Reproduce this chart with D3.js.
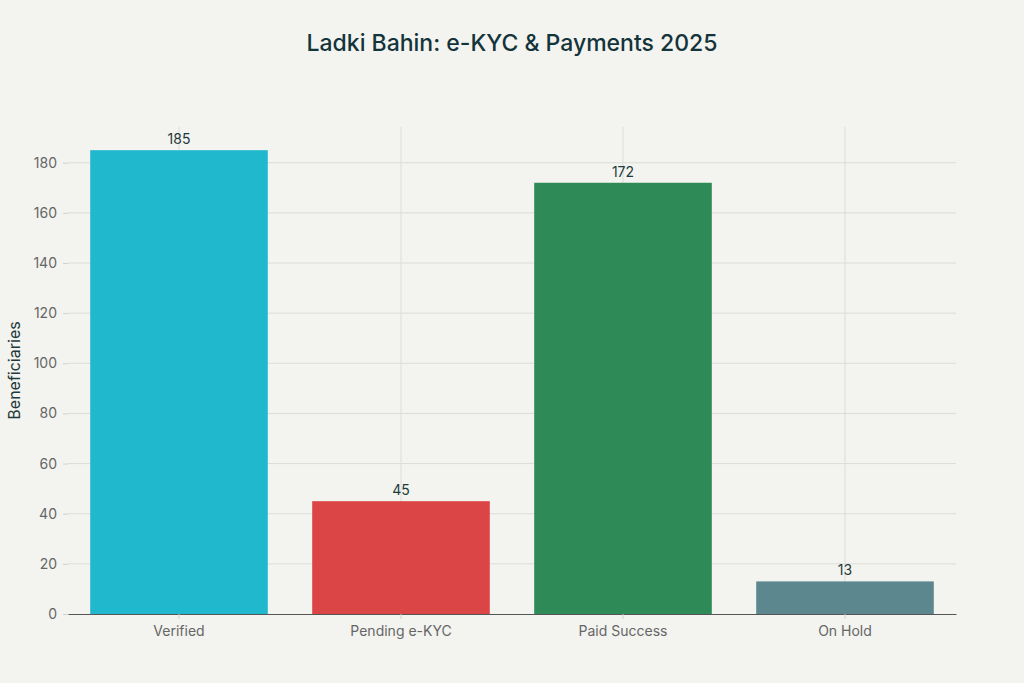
<!DOCTYPE html>
<html>
<head>
<meta charset="utf-8">
<script src="https://cdn.jsdelivr.net/npm/d3@7"></script>
<style>
  body { margin: 0; background: #f3f3ef; }
  svg { display: block; font-family: Inter, "Open Sans", sans-serif; }
</style>
</head>
<body>
<svg id="chart" width="1024" height="683"></svg>
<script>
var categories = ["Verified", "Pending e-KYC", "Paid Success", "On Hold"];
var values = [185, 45, 172, 13];
var colors = ["#1FB8CD", "#DB4545", "#2E8B57", "#5D878F"];
var yTicks = [0, 20, 40, 60, 80, 100, 120, 140, 160, 180];

var width = 1024, height = 683;
var margin = { top: 127, right: 68, bottom: 69, left: 68 };

var svg = d3.select("#chart");
svg.append("rect").attr("width", width).attr("height", height).attr("fill", "#f3f3ef");

var x = d3.scaleBand()
  .domain(categories)
  .range([margin.left, width - margin.right])
  .paddingInner(0.2)
  .paddingOuter(0.1);

var y = d3.scaleLinear()
  .domain([0, d3.max(values) * 1.05])
  .range([height - margin.bottom, margin.top]);

// horizontal grid
svg.append("g")
  .selectAll("line")
  .data(yTicks.slice(1))
  .enter().append("line")
  .attr("x1", margin.left)
  .attr("x2", width - margin.right)
  .attr("y1", function (d) { return y(d); })
  .attr("y2", function (d) { return y(d); })
  .attr("stroke", "#dcdcd8")
  .attr("stroke-width", 1);

// vertical grid
svg.append("g")
  .selectAll("line")
  .data(categories)
  .enter().append("line")
  .attr("x1", function (d) { return x(d) + x.bandwidth() / 2; })
  .attr("x2", function (d) { return x(d) + x.bandwidth() / 2; })
  .attr("y1", margin.top)
  .attr("y2", height - margin.bottom)
  .attr("stroke", "#dcdcd8")
  .attr("stroke-width", 1);

// bars
svg.append("g")
  .selectAll("rect")
  .data(values)
  .enter().append("rect")
  .attr("x", function (_, i) { return x(categories[i]); })
  .attr("y", function (d) { return y(d); })
  .attr("width", x.bandwidth())
  .attr("height", function (d) { return y(0) - y(d); })
  .attr("fill", function (_, i) { return colors[i]; });

// value labels
svg.append("g")
  .selectAll("text")
  .data(values)
  .enter().append("text")
  .attr("x", function (_, i) { return x(categories[i]) + x.bandwidth() / 2; })
  .attr("y", function (d) { return y(d) - 6; })
  .attr("text-anchor", "middle")
  .attr("font-size", 14)
  .attr("fill", "#1f3a3d")
  .text(function (d) { return d; });

// y axis
var yAxis = svg.append("g")
  .attr("transform", "translate(" + margin.left + ",0)")
  .call(d3.axisLeft(y).tickValues(yTicks).tickSize(5).tickPadding(6));
yAxis.select(".domain").remove();
yAxis.selectAll(".tick line").attr("stroke", "#d0d0cc");
yAxis.selectAll(".tick text").attr("fill", "#666").attr("font-size", 14)
  .attr("font-family", "Inter, 'Open Sans', sans-serif");

// x axis
var xAxis = svg.append("g")
  .attr("transform", "translate(0," + y(0) + ")")
  .call(d3.axisBottom(x).tickSize(5).tickSizeOuter(0).tickPadding(7));
xAxis.select(".domain").attr("stroke", "#555").attr("stroke-width", 1.2);
xAxis.selectAll(".tick line").attr("stroke", "#d0d0cc");
xAxis.selectAll(".tick text").attr("fill", "#666").attr("font-size", 14)
  .attr("font-family", "Inter, 'Open Sans', sans-serif");

// y label
svg.append("text")
  .attr("transform", "translate(20," + ((margin.top + height - margin.bottom) / 2) + ") rotate(-90)")
  .attr("text-anchor", "middle")
  .attr("font-size", 16)
  .attr("fill", "#1f3a3d")
  .text("Beneficiaries");

// title
svg.append("text")
  .attr("x", width / 2)
  .attr("y", 51)
  .attr("text-anchor", "middle")
  .attr("font-size", 23)
  .attr("font-weight", 500)
  .attr("fill", "#13343B")
  .text("Ladki Bahin: e-KYC & Payments 2025");
</script>
</body>
</html>
